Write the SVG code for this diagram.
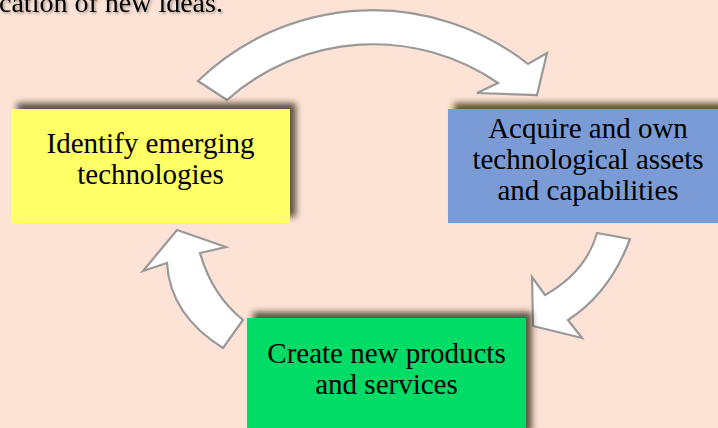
<svg xmlns="http://www.w3.org/2000/svg" width="718" height="428" viewBox="0 0 718 428">
  <defs>
    <filter id="boxShadow" x="-10%" y="-20%" width="125%" height="140%">
      <feDropShadow dx="6" dy="-6" stdDeviation="3" flood-color="#2e2018" flood-opacity="0.75"/>
    </filter>
    <filter id="textShadow" x="-5%" y="-50%" width="110%" height="200%">
      <feDropShadow dx="1.5" dy="1.5" stdDeviation="0.8" flood-color="#000" flood-opacity="0.35"/>
    </filter>
  </defs>
  <style>
    .bg { fill: #FCE3D6; }
    .box { filter: url(#boxShadow); }
    .label { font-family: "Liberation Serif", "Times New Roman", serif; font-size: 29px; fill: #000; text-anchor: middle; }
    .arrow { fill: #FFFFFF; stroke: #999999; stroke-width: 2.2; stroke-linejoin: miter; }
    .caption { font-family: "Liberation Serif", "Times New Roman", serif; font-size: 28px; fill: #000; filter: url(#textShadow); }
  </style>

  <rect class="bg" x="0" y="0" width="718" height="428"/>

  <!-- caption line, partly outside the top edge -->
  <text class="caption" x="-1" y="12">cation of new ideas.</text>

  <!-- curved block arrows of the cycle -->
  <g id="connectors">
    <path id="arrow-identify-acquire" class="arrow"
          d="M198,81 A251,251 0 0 1 528,64 L547,53 L537,95 L477,93 L498,83 A220,220 0 0 0 227,100 Z"/>
    <path id="arrow-acquire-create" class="arrow"
          d="M630,239 Q610,293 568,320 L582,338 L533,326 L532,277 L545,295 Q586,272 597,233 Z"/>
    <path id="arrow-create-identify" class="arrow"
          d="M223,348 Q170,315 167,263 L143,271 L177,230 L226,247 L200,253 Q212,295 243,320 Z"/>
  </g>

  <g id="node-identify">
    <rect class="box" x="11" y="109" width="279" height="114" fill="#FFFF66"/>
    <text class="label" x="150.5" y="153">Identify emerging</text>
    <text class="label" x="150.5" y="184">technologies</text>
  </g>

  <g id="node-acquire">
    <rect class="box" x="448" y="109" width="279" height="114" fill="#7A9BD5"/>
    <text class="label" x="588" y="138">Acquire and own</text>
    <text class="label" x="588" y="169">technological assets</text>
    <text class="label" x="588" y="200">and capabilities</text>
  </g>

  <g id="node-create">
    <rect class="box" x="247" y="318" width="279" height="120" fill="#00DC66"/>
    <text class="label" x="386.5" y="363">Create new products</text>
    <text class="label" x="386.5" y="394">and services</text>
  </g>
</svg>
